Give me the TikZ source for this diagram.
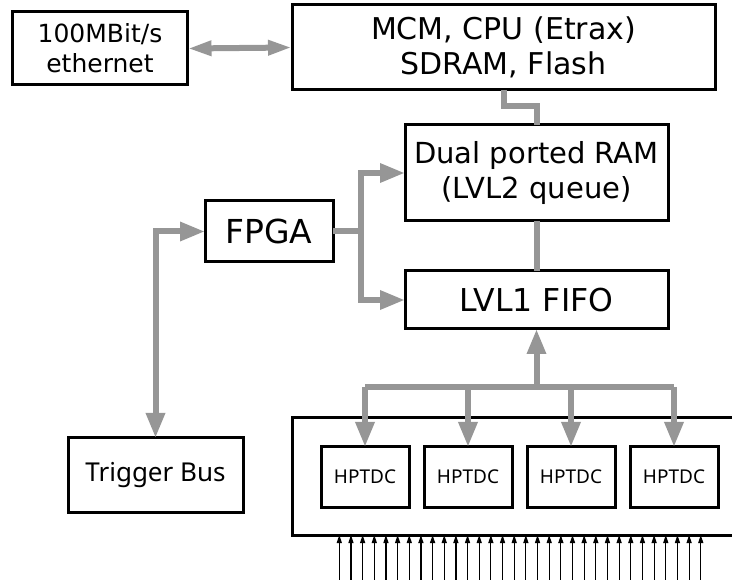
\documentclass[tikz,border=0pt]{standalone}
\usepackage{fontspec}
\setmainfont{DejaVu Sans}
\newfontfamily\tdcfont{Noto Sans}
\usetikzlibrary{arrows.meta}
\definecolor{busgray}{RGB}{150,150,150}

\begin{document}
\begin{tikzpicture}[x=1pt,y=-1pt,
    every node/.style={draw=black, line width=3pt, inner sep=0pt, outer sep=0pt, align=center},
    unit/.style={font=\fontsize{29}{35}\selectfont},
    tdc/.style={minimum width=88pt, minimum height=60pt, font=\tdcfont\fontsize{19}{22}\selectfont},
    bus/.style={draw=busgray, line width=6pt},
    busarrow/.style={-{Triangle[length=25pt,width=18pt]}},
    busboth/.style={{Triangle[length=25pt,width=18pt]}-{Triangle[length=25pt,width=18pt]}},
    ethboth/.style={{Triangle[length=24pt,width=14pt]}-{Triangle[length=24pt,width=14pt]}}]
      \useasboundingbox (0,0) rectangle (732,580);
      \clip (0,0) rectangle (732,580);
      \node[unit, minimum width=175pt, minimum height=73pt, font=\fontsize{25}{30}\selectfont] (eth) at (100,48.5) {100MBit/s\\ethernet};
      \node[unit, minimum width=423pt, minimum height=85pt, font=\fontsize{30}{35}\selectfont] (mcm) at (503.5,47.5) {MCM, CPU (Etrax)\\SDRAM, Flash};
      \node[unit, minimum width=263pt, minimum height=96pt] (dpram) at (536.5,173) {Dual ported RAM\\(LVL2 queue)};
      \node[unit, minimum width=263pt, minimum height=58pt, font=\fontsize{31.5}{35}\selectfont] (fifo) at (536.5,300) {LVL1 FIFO};
      \node[unit, minimum width=128pt, minimum height=61pt, font=\fontsize{33}{36}\selectfont] (fpga) at (269,231.5) {FPGA};
      \node[unit, minimum width=175pt, minimum height=74pt, font=\tdcfont\fontsize{26}{30}\selectfont] (trigger) at (155.5,475) {Trigger Bus};
      \node[minimum width=468pt, minimum height=117pt] (board) at (526,476.5) {};
      \foreach \i in {1,...,4}
        \node[tdc] (tdc\i) at (262+103*\i,477) {HPTDC};
      \draw[bus, ethboth] (eth.east) -- (mcm.west);
      \draw[bus] (mcm.south) -- ++(0,16) -| (dpram.north);
      \draw[bus] (dpram.south) -- (fifo.north);
      \coordinate (split) at (361,231.5);
      \draw[bus] (fpga.east) -- (split);
      \draw[bus, busarrow] (split) |- (dpram.west);
      \draw[bus, busarrow] (split) |- (fifo.west);
      \draw[bus, busboth] (trigger.north) |- (fpga.west);
      \coordinate (busmid) at (536.5,387);
      \draw[bus] (tdc1.north |- busmid) -- (tdc4.north |- busmid);
      \draw[bus, busarrow] (busmid) -- (fifo.south);
      \foreach \i in {1,...,4}
        \draw[bus, busarrow] (tdc\i.north |- busmid) -- (tdc\i.north);
      \foreach \i in {0,...,31} {
        \coordinate (in\i) at ({339.3+11.66*\i},582);
        \draw[line width=1.2pt, -{Triangle[length=8pt,width=5pt]}] (in\i) -- (in\i |- board.south);
      }
\end{tikzpicture}
\end{document}
